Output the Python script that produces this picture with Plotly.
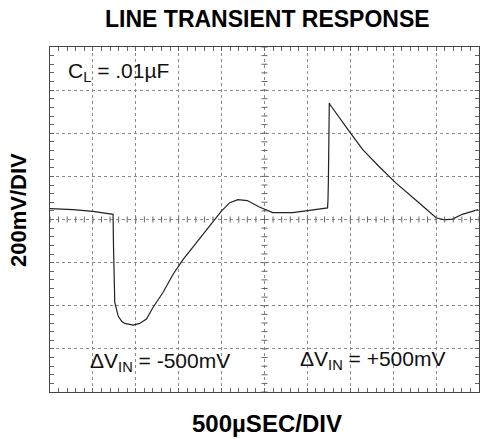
import plotly.graph_objects as go

# waveform, in scope divisions (x: 0..10 time div, y: -4..4 voltage div)
time_div = [0.0, 0.54, 1.0, 1.47, 1.48, 1.50, 1.51, 1.59, 1.67, 1.74, 1.94, 2.09, 2.25, 2.40,
            2.63, 2.87, 3.10, 3.41, 3.72, 3.99, 4.19, 4.38, 4.60, 4.88, 5.19, 5.66, 6.05,
            6.47, 6.48, 6.49, 6.51, 6.53, 6.98, 7.29, 7.67, 8.06, 8.60, 9.00, 9.19, 9.38,
            9.61, 9.98]
volt_div = [0.25, 0.23, 0.19, 0.12, -0.60, -1.62, -1.92, -2.24, -2.36, -2.41, -2.45, -2.41,
            -2.31, -2.04, -1.70, -1.27, -0.93, -0.54, -0.16, 0.19, 0.39, 0.46, 0.44, 0.29,
            0.16, 0.16, 0.21, 0.27, 0.46, 0.93, 2.70, 2.66, 2.04, 1.62, 1.23, 0.85, 0.39,
            0.04, -0.01, 0.01, 0.12, 0.23]

title_text = "<b>LINE TRANSIENT RESPONSE</b>"
x_label = "<b>500µSEC/DIV</b>"
y_label = "<b>200mV/DIV</b>"
notes = ["C<sub>L</sub> = .01µF", "ΔV<sub>IN</sub> = -500mV", "ΔV<sub>IN</sub> = +500mV"]
note_pos = [(0.37, 3.41), (0.88, -3.3), (5.79, -3.25)]

FONT = "Liberation Sans, Arial, Helvetica, sans-serif"
fig = go.Figure()
fig.add_trace(go.Scatter(x=time_div, y=volt_div, mode="lines",
                         line=dict(color="#222222", width=1.2), hoverinfo="skip"))

shapes = []
# center cross ticks
n = 0
while n <= 50:
    xv = n * 0.2
    shapes.append(dict(type="line", xref="x", yref="y", x0=xv, x1=xv, y0=-0.07, y1=0.07,
                       line=dict(color="#666666", width=1)))
    n += 1
n = 0
while n <= 40:
    yv = -4 + n * 0.2
    shapes.append(dict(type="line", xref="x", yref="y", x0=4.93, x1=5.07, y0=yv, y1=yv,
                       line=dict(color="#666666", width=1)))
    n += 1

fig.update_layout(
    width=480, height=439,
    margin=dict(l=50, r=1, t=47, b=47, autoexpand=False),
    paper_bgcolor="white", plot_bgcolor="white",
    showlegend=False,
    shapes=shapes,
    title=dict(text=title_text, x=0.557, xanchor="center", y=0.956, yanchor="middle",
               font=dict(family=FONT, size=23, color="black")),
    font=dict(family=FONT, color="black"),
)
axis_common = dict(showticklabels=False, showgrid=True, gridcolor="#8a8a8a", griddash="dot",
                   gridwidth=1, zeroline=False, showline=True, linecolor="#444444",
                   linewidth=1.2, mirror="ticks", ticks="inside", ticklen=4,
                   tickcolor="#666666", automargin=False,
                   minor=dict(dtick=0.2, ticks="inside", ticklen=4, tickcolor="#666666",
                              showgrid=False))
fig.update_xaxes(range=[0, 10], dtick=1, tick0=0, **axis_common)
fig.update_yaxes(range=[-4, 4], dtick=1, tick0=0, **axis_common)

fig.add_annotation(x=0.505, y=-0.09, xref="paper", yref="paper", text=x_label,
                   showarrow=False, xanchor="center", yanchor="middle",
                   font=dict(family=FONT, size=24, color="black"))
fig.add_annotation(x=-0.072, y=0.528, xref="paper", yref="paper", text=y_label,
                   showarrow=False, xanchor="center", yanchor="middle", textangle=-90,
                   font=dict(family=FONT, size=22, color="black"))

for t, (xx, yy) in zip(notes, note_pos):
    fig.add_annotation(x=xx, y=yy, xref="x", yref="y", text=t, showarrow=False,
                       xanchor="left", yanchor="middle",
                       font=dict(family=FONT, size=21, color="#111111"))

fig.write_html("out.html", config={"displayModeBar": False},
               post_script="document.body.style.margin='0';document.body.style.overflow='hidden';")
